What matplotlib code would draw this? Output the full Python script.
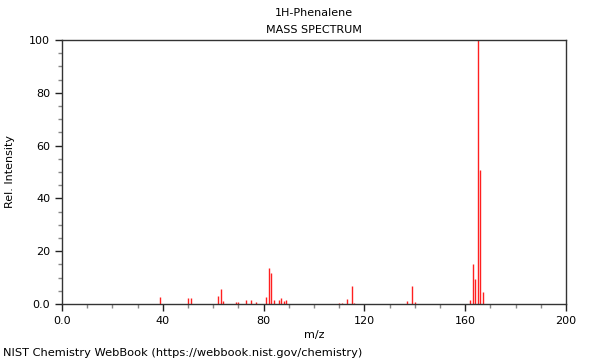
import matplotlib
matplotlib.use("Agg")
import matplotlib.pyplot as plt
from matplotlib.ticker import MultipleLocator, FixedLocator

# peaks
mz = [39, 50, 51, 62, 63, 64, 69, 70, 73, 75, 77, 81, 82, 83, 84, 86, 87,
      88, 89, 110, 111, 113, 115, 116, 137, 139, 140,
      162, 163, 164, 165, 166, 167]
intensity = [2.7, 2.1, 2.3, 2.9, 5.7, 1.0, 0.8, 0.8, 1.4, 1.4, 0.6, 2.5,
             13.6, 11.6, 1.4, 1.4, 2.1, 1.0, 1.6, 0.5, 0.4, 2.0, 6.8, 0.4,
             1.0, 6.8, 0.6, 1.5, 15.3, 9.6, 100.0, 50.9, 4.7]

x_major = [0, 40, 80, 120, 160, 200]
x_labels = ["0.0", "40", "80", "120", "160", "200"]
y_major = [0, 20, 40, 60, 80, 100]
y_labels = ["0.0", "20", "40", "60", "80", "100"]

fig = plt.figure(figsize=(6, 3.6), dpi=100)
ax = fig.add_axes([62 / 600, 1 - 304 / 360, 504 / 600, 264 / 360])

ax.vlines(mz, 0, intensity, colors="#ff2020", lw=1.0)

ax.set_xlim(0, 200)
ax.set_ylim(0, 100)
ax.xaxis.set_major_locator(FixedLocator(x_major))
ax.set_xticklabels(x_labels)
ax.xaxis.set_minor_locator(MultipleLocator(10))
ax.yaxis.set_major_locator(FixedLocator(y_major))
ax.set_yticklabels(y_labels)
ax.yaxis.set_minor_locator(MultipleLocator(5))
ax.tick_params(which="major", length=5, width=1, color="#222222",
               labelsize=8)
ax.tick_params(which="minor", length=3, width=1, color="#888888")
for sp in ax.spines.values():
    sp.set_color("#333333")
    sp.set_linewidth(1)

ax.set_xlabel("m/z", fontsize=8, labelpad=3)
ax.set_ylabel("Rel. Intensity", fontsize=8, labelpad=10)
fig.text(314 / 600, 1 - 13 / 360, "1H-Phenalene", ha="center", va="center",
         fontsize=8)
fig.text(314 / 600, 1 - 30 / 360, "MASS SPECTRUM", ha="center",
         va="center", fontsize=8)
fig.text(3 / 600, 1 - 353 / 360,
         "NIST Chemistry WebBook (https://webbook.nist.gov/chemistry)",
         ha="left", va="center", fontsize=8.2)

fig.savefig("out.png", dpi=100)
